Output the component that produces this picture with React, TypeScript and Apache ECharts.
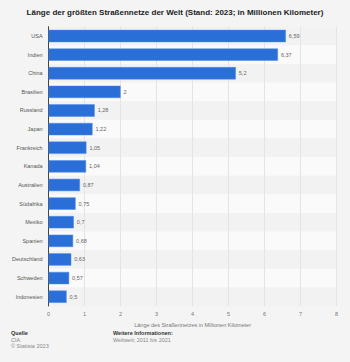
import React, { useEffect, useRef } from "react";
import * as echarts from "echarts";

const categories = [
  "USA", "Indien", "China", "Brasilien", "Russland", "Japan", "Frankreich", "Kanada",
  "Australien", "Südafrika", "Mexiko", "Spanien", "Deutschland", "Schweden", "Indonesien",
];
const values = [6.59, 6.37, 5.2, 2, 1.28, 1.22, 1.05, 1.04, 0.87, 0.75, 0.7, 0.68, 0.63, 0.57, 0.5];
const xTicks = [0, 1, 2, 3, 4, 5, 6, 7, 8];

const fmt = (v: number) => String(v).replace(".", ",");

export default function App() {
  const ref = useRef<HTMLDivElement>(null);
  useEffect(() => {
    if (!ref.current) return;
    const chart = echarts.init(ref.current, null, { renderer: "svg" });
    chart.setOption({
      animation: false,
      backgroundColor: "#f4f4f4",
      textStyle: { fontFamily: "Liberation Sans, Arial, sans-serif" },
      title: {
        text: "Länge der größten Straßennetze der Welt (Stand: 2023; in Millionen Kilometer)",
        left: "center",
        top: 3,
        textStyle: { fontSize: 8, fontWeight: "bold", color: "#222" },
      },
      grid: { left: 48.6, right: 13.4, top: 26.7, bottom: 56, containLabel: false },
      xAxis: {
        type: "value",
        min: xTicks[0],
        max: xTicks[xTicks.length - 1],
        interval: 1,
        name: "Länge des Straßennetzes in Millionen Kilometer",
        nameLocation: "middle",
        nameGap: 15,
        nameTextStyle: { fontSize: 5.5, color: "#777" },
        axisLine: { show: false },
        axisTick: { show: false },
        axisLabel: { fontSize: 5.5, color: "#777", margin: 5 },
        splitLine: { show: true, lineStyle: { color: "#e4e4e4", width: 1 } },
      },
      yAxis: {
        type: "category",
        data: categories,
        inverse: true,
        axisLine: { show: true, lineStyle: { color: "#444", width: 1 } },
        axisTick: { show: false },
        axisLabel: { fontSize: 5.5, color: "#555", margin: 6 },
        splitArea: { show: true, areaStyle: { color: ["#f2f2f2", "#fafafa"] } },
      },
      series: [
        {
          type: "bar",
          data: values,
          barWidth: "66%",
          itemStyle: { color: "#2a6fd8", borderColor: "#4f8ae3", borderWidth: 0.5 },
          label: {
            show: true,
            position: "right",
            distance: 3,
            fontSize: 5.5,
            color: "#666",
            formatter: (p: any) => fmt(p.value),
          },
        },
      ],
      graphic: [
        { type: "text", left: 11, top: 330, style: { text: "Quelle", fontSize: 5.5, fontWeight: "bold", fill: "#333" } },
        { type: "text", left: 11, top: 337, style: { text: "CIA", fontSize: 5.5, fill: "#888" } },
        { type: "text", left: 11, top: 343, style: { text: "© Statista 2023", fontSize: 5.5, fill: "#888" } },
        { type: "text", left: 113, top: 330, style: { text: "Weitere Informationen:", fontSize: 5.5, fontWeight: "bold", fill: "#333" } },
        { type: "text", left: 113, top: 337, style: { text: "Weltweit; 2011 bis 2021", fontSize: 5.5, fill: "#888" } },
      ],
    });
    return () => chart.dispose();
  }, []);
  return <div ref={ref} style={{ position: "fixed", left: 0, top: 0, width: 350, height: 362 }} />;
}
